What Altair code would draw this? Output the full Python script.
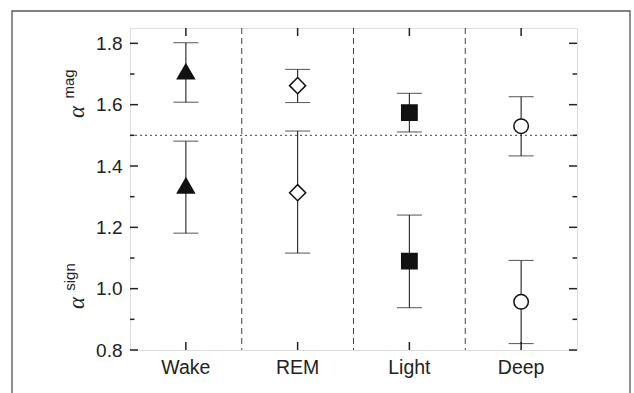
import altair as alt
import pandas as pd

stages = ["Wake", "REM", "Light", "Deep"]
mag = [1.708, 1.662, 1.574, 1.530]
mag_lo = [1.608, 1.607, 1.511, 1.433]
mag_hi = [1.802, 1.715, 1.637, 1.626]
sign = [1.336, 1.313, 1.090, 0.957]
sign_lo = [1.181, 1.116, 0.938, 0.821]
sign_hi = [1.481, 1.514, 1.240, 1.092]

y_major = [0.8, 1.0, 1.2, 1.4, 1.6, 1.8]
y_minor = [0.9, 1.1, 1.3, 1.5, 1.7]
boundaries = ["REM", "Light", "Deep"]

W, H = 447, 322

rows = []
for i, s in enumerate(stages):
    rows.append(dict(stage=s, measure="mag", v=mag[i], lo=mag_lo[i], hi=mag_hi[i]))
    rows.append(dict(stage=s, measure="sign", v=sign[i], lo=sign_lo[i], hi=sign_hi[i]))
df = pd.DataFrame(rows)

xscale = alt.Scale(type="band", domain=stages, paddingInner=0, paddingOuter=0)
xaxis = alt.Axis(title=None, domain=False, ticks=False, grid=False, labelFontSize=19.5,
                 labelAngle=0, labelPadding=8, labelColor="#222", labelFont="Liberation Sans")
yscale = alt.Scale(domain=[0.8, 1.85], zero=False, nice=False)
yaxis = alt.Axis(title=None, domain=False, ticks=False, grid=False, values=y_major,
                 format=".1f", labelFontSize=19, labelPadding=8, labelColor="#222",
                 labelFont="Liberation Sans")

X = alt.X("stage:N", scale=xscale, axis=xaxis, sort=stages)

base = alt.Chart(df)

err = base.mark_rule(color="#222", strokeWidth=1.1).encode(
    x=X,
    y=alt.Y("lo:Q", scale=yscale, axis=yaxis),
    y2="hi:Q",
)
cap_lo = base.mark_tick(color="#222", thickness=1.1, size=25, orient="horizontal").encode(
    x=X, y=alt.Y("lo:Q", scale=yscale, axis=yaxis))
cap_hi = base.mark_tick(color="#222", thickness=1.1, size=25, orient="horizontal").encode(
    x=X, y=alt.Y("hi:Q", scale=yscale, axis=yaxis))

pts = base.mark_point(opacity=1, strokeWidth=1.5, stroke="#111").encode(
    x=X,
    y=alt.Y("v:Q", scale=yscale, axis=yaxis),
    shape=alt.Shape("stage:N", scale=alt.Scale(domain=stages,
                    range=["triangle-up", "diamond", "square", "circle"]), legend=None),
    fill=alt.Fill("stage:N", scale=alt.Scale(domain=stages,
                  range=["#111", "white", "#111", "white"]), legend=None),
    size=alt.Size("stage:N", scale=alt.Scale(domain=stages,
                  range=[285, 210, 175, 190]), legend=None),
)

bdf = pd.DataFrame({"stage": boundaries})
vlines = alt.Chart(bdf).mark_rule(color="#444", strokeWidth=1, strokeDash=[6, 4]).encode(
    x=alt.X("stage:N", scale=xscale, axis=xaxis, bandPosition=0, sort=stages),
    y=alt.value(0), y2=alt.value(H))

hline = alt.Chart(pd.DataFrame({"v": [1.5]})).mark_rule(
    color="#444", strokeWidth=1, strokeDash=[2, 3]).encode(
    y=alt.Y("v:Q", scale=yscale, axis=yaxis), x=alt.value(0), x2=alt.value(W))

sdf = pd.DataFrame({"stage": stages})
xt_bot = alt.Chart(sdf).mark_rule(color="#222", strokeWidth=1.5).encode(
    x=X, y=alt.value(H - 8), y2=alt.value(H))
xt_top = alt.Chart(sdf).mark_rule(color="#222", strokeWidth=1.5).encode(
    x=X, y=alt.value(0), y2=alt.value(8))

majdf = pd.DataFrame({"v": y_major})
mindf = pd.DataFrame({"v": y_minor})
Yt = alt.Y("v:Q", scale=yscale, axis=yaxis)
yt_l_maj = alt.Chart(majdf).mark_rule(color="#222", strokeWidth=1.5).encode(
    y=Yt, x=alt.value(0), x2=alt.value(8))
yt_r_maj = alt.Chart(majdf).mark_rule(color="#222", strokeWidth=1.5).encode(
    y=Yt, x=alt.value(W - 8), x2=alt.value(W))
yt_l_min = alt.Chart(mindf).mark_rule(color="#222", strokeWidth=1.5).encode(
    y=Yt, x=alt.value(0), x2=alt.value(4.5))
yt_r_min = alt.Chart(mindf).mark_rule(color="#222", strokeWidth=1.5).encode(
    y=Yt, x=alt.value(W - 4.5), x2=alt.value(W))

# outer figure frame
frame = alt.Chart(sdf.head(1)).mark_rect(fill=None, stroke="#555", strokeWidth=1.3).encode(
    x=alt.value(-118), x2=alt.value(500), y=alt.value(-17), y2=alt.value(400))

# y-axis titles (alpha with superscripts)
lab = alt.Chart(sdf.head(1))
alpha_mag = lab.mark_text(text="α", angle=270, font="Liberation Serif", fontStyle="italic",
                          fontSize=23, color="#222").encode(x=alt.value(-53), y=alt.value(84))
sup_mag = lab.mark_text(text="mag", angle=270, font="Liberation Sans",
                        fontSize=15, color="#222").encode(x=alt.value(-61), y=alt.value(56))
alpha_sign = lab.mark_text(text="α", angle=270, font="Liberation Serif", fontStyle="italic",
                           fontSize=23, color="#222").encode(x=alt.value(-53), y=alt.value(275))
sup_sign = lab.mark_text(text="sign", angle=270, font="Liberation Sans",
                         fontSize=15, color="#222").encode(x=alt.value(-60), y=alt.value(249))

chart = alt.layer(
    frame, vlines, hline, err, cap_lo, cap_hi, pts,
    xt_bot, xt_top, yt_l_maj, yt_r_maj, yt_l_min, yt_r_min,
    alpha_mag, sup_mag, alpha_sign, sup_sign,
).properties(
    width=W, height=H,
    autosize=alt.AutoSizeParams(type="none"),
    padding={"left": 130, "top": 28, "right": 57, "bottom": 43},
).configure_view(stroke="#222", strokeWidth=1.6).configure(background="white")

chart.save("out.html", embed_options={"renderer": "svg", "actions": False})
